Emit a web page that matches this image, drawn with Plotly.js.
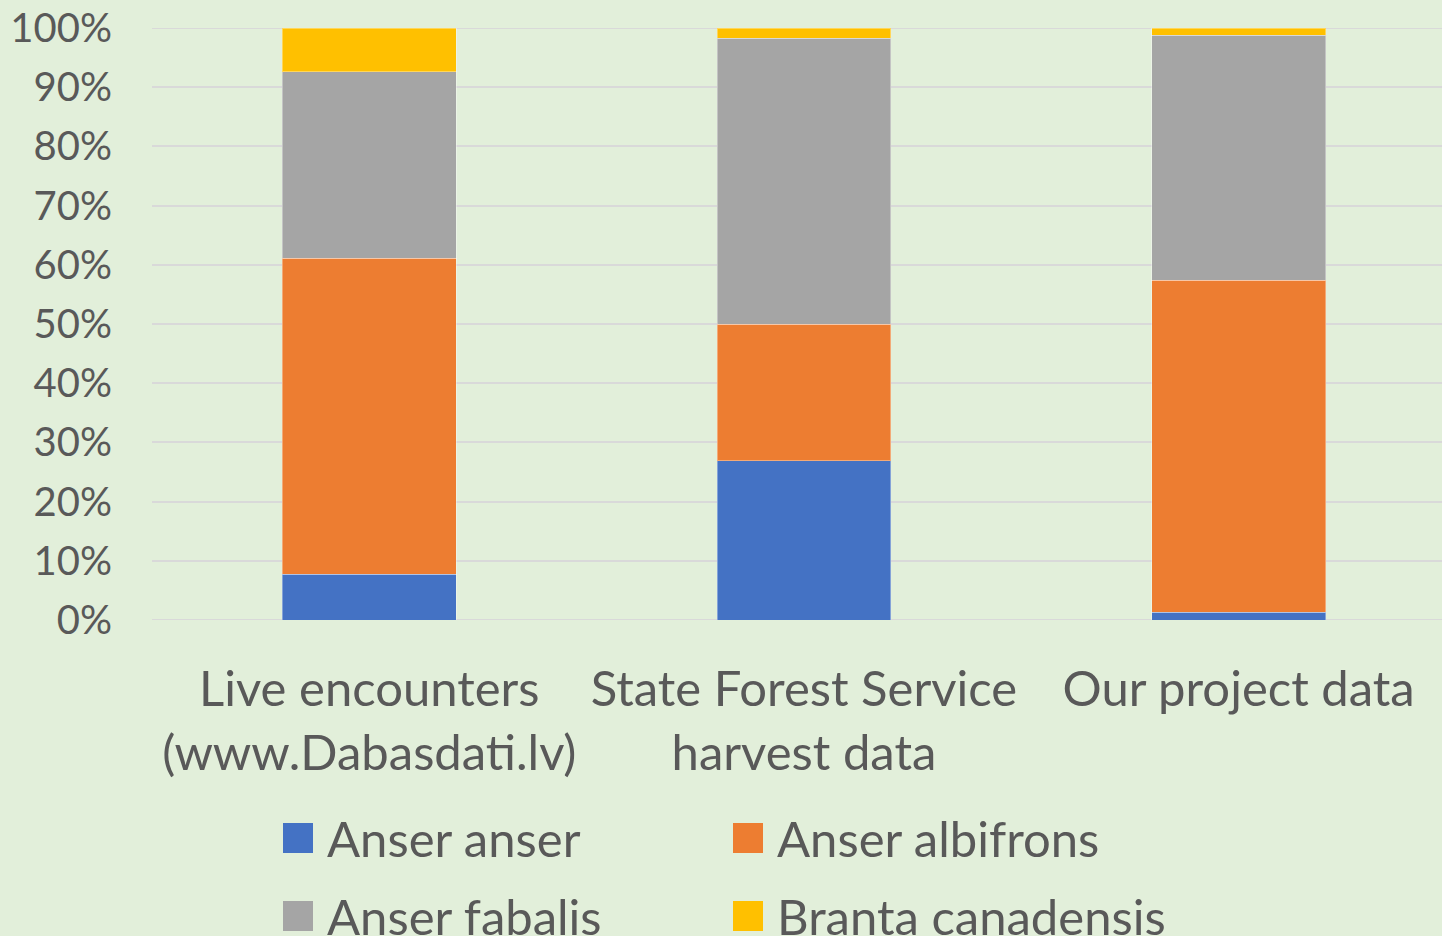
<!DOCTYPE html>
<html>
<head>
<meta charset="utf-8">
<script src="https://cdn.plot.ly/plotly-3.0.1.min.js"></script>
<style>
  html, body { margin: 0; padding: 0; background: #e2efda; }
  #chart { width: 1442px; height: 936px; }
</style>
</head>
<body>
<div id="chart"></div>
<script>
// categories and shares (percent of each column)
const categories = ['Live encounters<br>(www.Dabasdati.lv)', 'State Forest Service<br>harvest data', 'Our project data'];
const seriesNames = ['Anser anser', 'Anser albifrons', 'Anser fabalis', 'Branta canadensis'];
const anserAnser = [7.7, 26.9, 1.3];
const anserAlbifrons = [53.4, 23.1, 56.1];
const anserFabalis = [31.5, 48.3, 41.4];
const brantaCanadensis = [7.4, 1.7, 1.2];
const seriesColors = ['#4472c4', '#ed7d31', '#a5a5a5', '#ffc000'];

const seriesValues = [anserAnser, anserAlbifrons, anserFabalis, brantaCanadensis];
const textColor = '#595959';
const gridColor = '#d9d9d9';
const fontFamily = 'Lato, "Open Sans", sans-serif';

const traces = seriesValues.map((vals, i) => ({
  type: 'bar',
  name: seriesNames[i],
  x: [0, 1, 2],
  y: vals,
  width: 0.4,
  marker: { color: seriesColors[i], line: { color: 'rgba(255,255,255,0.35)', width: 1 } },
  showlegend: false,
  hoverinfo: 'name+y'
}));

// --- custom legend (big squares like the original) ---
const plotLeft = 152, plotW = 1290, plotBottom = 620, plotH = 592;
const px = x => (x - plotLeft) / plotW;
const py = y => (plotBottom - y) / plotH;
const legendCols = [283, 733];
const legendRows = [838, 916];

// edge gridlines (0% and 100%) that plotly drops at the range ends
const shapes = [0, 100].map(v => ({
  type: 'line', xref: 'paper', yref: 'y', x0: 0, x1: 1, y0: v, y1: v,
  layer: 'below', line: { color: gridColor, width: 2 }
}));
const annotations = [];
seriesNames.forEach((name, i) => {
  const cx = legendCols[i % 2];
  const cy = legendRows[Math.floor(i / 2)];
  shapes.push({
    type: 'rect', xref: 'paper', yref: 'paper',
    x0: px(cx), x1: px(cx + 30), y0: py(cy + 15), y1: py(cy - 15),
    fillcolor: seriesColors[i], line: { width: 0 }
  });
  annotations.push({
    xref: 'paper', yref: 'paper', x: px(cx + 42), y: py(cy),
    xanchor: 'left', yanchor: 'middle', showarrow: false,
    text: name, font: { family: fontFamily, size: 49, color: textColor }
  });
});

const layout = {
  width: 1442,
  height: 936,
  margin: { l: plotLeft, r: 0, t: 28, b: 316 },
  paper_bgcolor: '#e2efda',
  plot_bgcolor: '#e2efda',
  barmode: 'stack',
  bargap: 0.6,
  font: { family: fontFamily, color: textColor },
  xaxis: {
    tickmode: 'array',
    tickvals: [0, 1, 2],
    ticktext: categories,
    range: [-0.5, 2.468],
    showgrid: false,
    zeroline: false,
    showline: false,
    ticks: '',
    ticklabelstandoff: 36,
    tickfont: { family: fontFamily, size: 49, color: textColor }
  },
  yaxis: {
    range: [0, 100],
    dtick: 10,
    ticksuffix: '%',
    showgrid: true,
    gridcolor: gridColor,
    gridwidth: 2,
    zeroline: false,
    showline: false,
    ticks: '',
    ticklabelstandoff: 39,
    tickfont: { family: fontFamily, size: 40, color: textColor }
  },
  shapes: shapes,
  annotations: annotations,
  showlegend: false
};

Plotly.newPlot('chart', traces, layout, { displayModeBar: false, staticPlot: true });
</script>
</body>
</html>
